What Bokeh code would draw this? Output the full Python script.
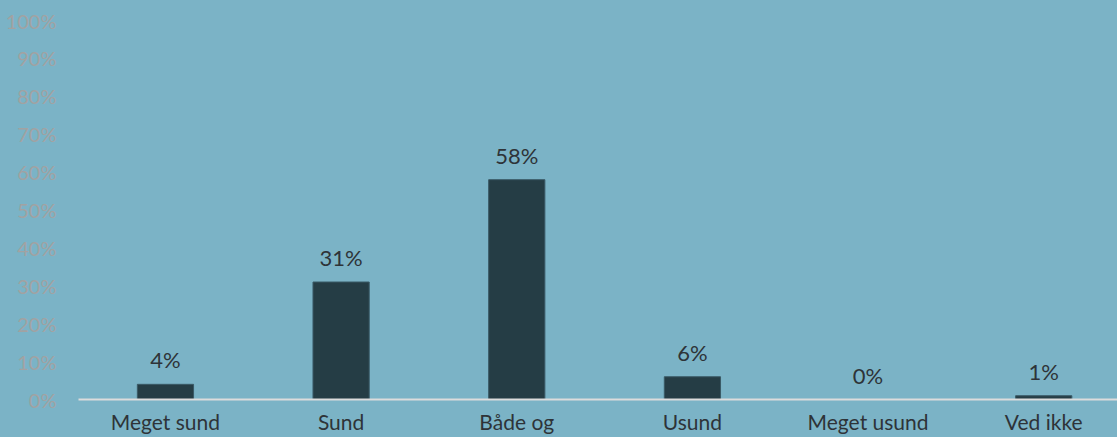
from bokeh.plotting import figure
from bokeh.models import ColumnDataSource, FixedTicker, Range1d, LabelSet
from bokeh.core.properties import value
from bokeh.embed import file_html
from bokeh.resources import INLINE

categories = ["Meget sund", "Sund", "Både og", "Usund", "Meget usund", "Ved ikke"]
values = [4, 31, 58, 6, 0, 1]
y_ticks = [0, 10, 20, 30, 40, 50, 60, 70, 80, 90, 100]
y_tick_labels = [f"{t}%" for t in y_ticks]

BG = "#7BB3C6"
BAR = "#253D45"
FONT = "Lato"

xs = list(range(len(categories)))
src = ColumnDataSource(dict(
    x=xs, top=values,
    label=[f"{v}%" for v in values],
    ly=values,
))

p = figure(width=1117, height=437, output_backend="svg", toolbar_location=None,
           x_range=Range1d(-0.495, 5.42), y_range=Range1d(0, 100),
           min_border_left=78, min_border_right=0, min_border_top=20,
           min_border_bottom=38)
p.background_fill_color = BG
p.background_fill_alpha = 0
p.border_fill_color = BG
p.border_fill_alpha = 0
p.styles = {"background-color": BG}
p.outline_line_color = None
p.grid.grid_line_color = None

p.vbar(x="x", top="top", width=0.32, bottom=0, source=src,
       fill_color=BAR, line_color="#3A5A66", line_width=1)

labels = LabelSet(x="x", y="ly", text="label", source=src,
                  text_align="center", text_baseline="bottom",
                  y_offset=11, text_font=value(FONT), text_font_size="22px",
                  text_color="#2E3338")
p.add_layout(labels)

p.xaxis.ticker = FixedTicker(ticks=xs)
p.xaxis.major_label_overrides = {i: c for i, c in enumerate(categories)}
p.xaxis.major_tick_line_color = None
p.xaxis.minor_tick_line_color = None
p.xaxis.axis_line_color = "#DCDCDC"
p.xaxis.axis_line_width = 2
p.xaxis.major_label_text_font = FONT
p.xaxis.major_label_text_font_size = "21px"
p.xaxis.major_label_text_color = "#2E3338"
p.xaxis.major_label_standoff = 3

p.yaxis.ticker = FixedTicker(ticks=y_ticks)
p.yaxis.major_label_overrides = {t: l for t, l in zip(y_ticks, y_tick_labels)}
p.yaxis.axis_line_color = None
p.yaxis.major_tick_line_color = None
p.yaxis.minor_tick_line_color = None
p.yaxis.major_label_text_font = FONT
p.yaxis.major_label_text_font_size = "20px"
p.yaxis.major_label_text_color = "#A2A2A2"
p.yaxis.major_label_standoff = 16

open("out.html", "w").write(file_html(p, INLINE))
